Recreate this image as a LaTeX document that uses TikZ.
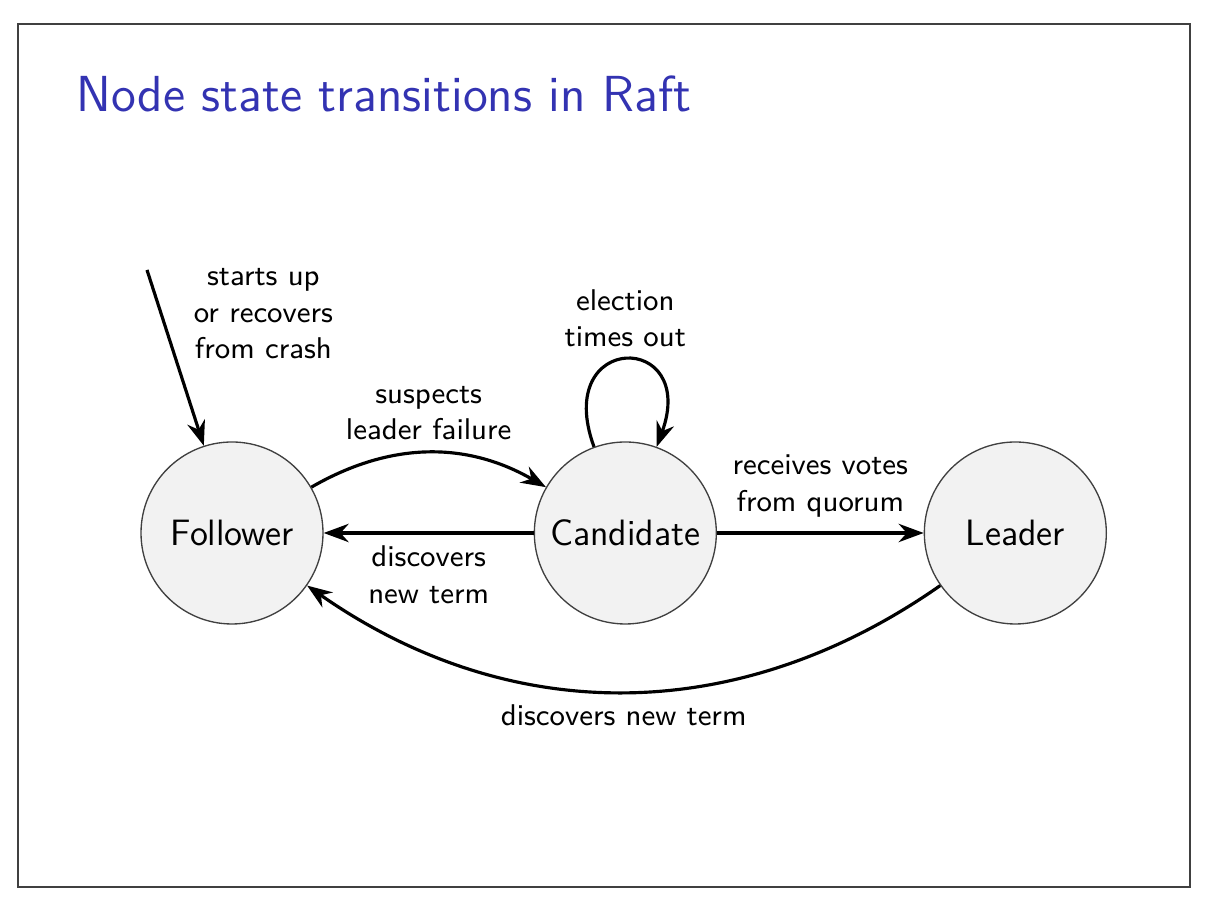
\documentclass[tikz,border=0pt]{standalone}
\usepackage{tikz}
\usetikzlibrary{arrows.meta,positioning}
\definecolor{titleblue}{HTML}{3333B2}
\definecolor{statefill}{HTML}{F2F2F2}
\definecolor{stateline}{HTML}{404040}
\definecolor{framegray}{HTML}{404040}

\begin{document}
\begin{tikzpicture}[x=0.3pt,y=0.3pt,>={Stealth[length=7.5pt,width=5.5pt]},
  state/.style={circle,draw=stateline,fill=statefill,line width=0.4pt,minimum size=54.6pt,inner sep=0pt,font=\sffamily\fontsize{11}{13}\selectfont},
  trans/.style={->,line width=0.95pt},
  lbl/.style={align=center,font=\sffamily\small}]
  \useasboundingbox (0,0) rectangle (1206,910);
  \draw[framegray,line width=0.5pt] (18,23) rectangle (1190,886);
  \node[anchor=base west,inner sep=0pt,text=titleblue,font=\sffamily\fontsize{15.2}{18}\selectfont] (title) at (76,798) {Node state transitions in Raft};
  \node[state] (follower) at (232,377) {Follower};
  \node[state,right=63pt of follower] (candidate) {Candidate};
  \node[state,right=62pt of candidate] (leader) {Leader};
  \coordinate (boot) at (147,640);
  \draw[trans] (boot) -- node[lbl,pos=0.25,right=6pt] (bootlbl) {starts up\\or recovers\\from crash} (follower);
  \draw[trans] (follower) to[bend left=30] node[lbl,above] (suspectlbl) {suspects\\leader failure} (candidate);
  \draw[trans] (candidate) -- node[lbl,below] (steplbl) {discovers\\new term} (follower);
  \draw[trans] (candidate.110) .. controls +(110:37pt) and +(70:37pt) .. node[lbl,above] (timeoutlbl) {election\\times out} (candidate.70);
  \draw[trans] (candidate) -- node[lbl,above,yshift=1pt] (quorumlbl) {receives votes\\from quorum} (leader);
  \draw[trans] (leader) to[bend left=35] node[lbl,below] (newtermlbl) {discovers new term} (follower);
\end{tikzpicture}
\end{document}
